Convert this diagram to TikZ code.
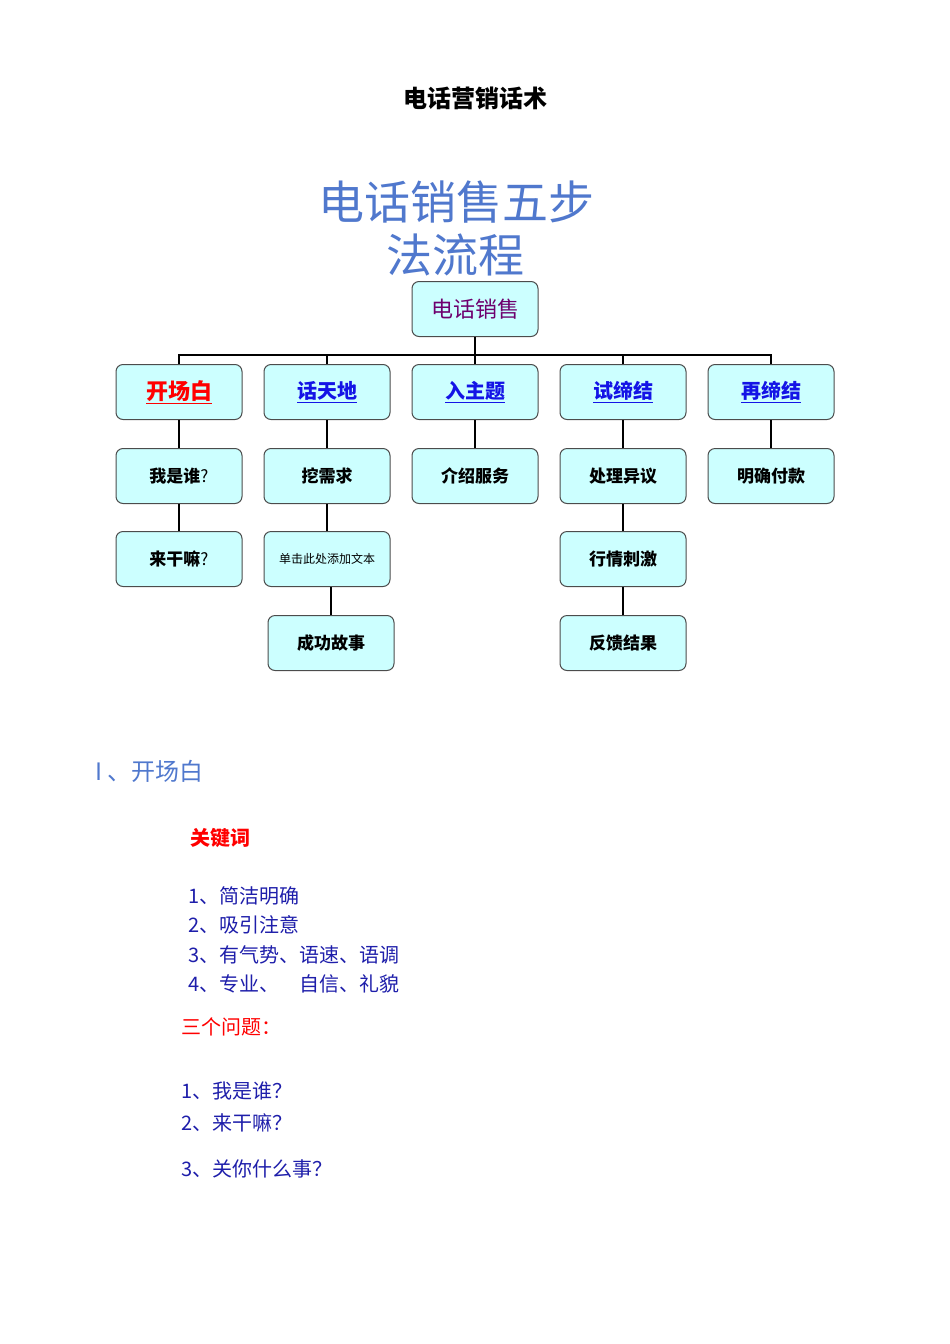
\documentclass[tikz,border=0pt]{standalone}
\usepackage{fontspec}
\newfontfamily\cjk{Noto Sans CJK SC}
\definecolor{boxfill}{RGB}{204,255,255}
\definecolor{bigblue}{RGB}{80,120,205}
\definecolor{listblue}{RGB}{30,30,170}
\definecolor{linkblue}{RGB}{20,20,230}
\definecolor{topcol}{RGB}{110,0,110}
\tikzset{
  box/.style={draw=black!70, line width=1pt, fill=boxfill, rounded corners=7pt, minimum width=126pt, minimum height=55pt, inner sep=0pt, font=\cjk\fontsize{17}{19}\selectfont\bfseries},
  conn/.style={line width=2pt, black},
  txt/.style={anchor=west, inner sep=0pt, font=\cjk\fontsize{20}{22}\selectfont}
}
\begin{document}
\begin{tikzpicture}[x=1pt,y=-1pt]
\useasboundingbox (0,0) rectangle (950,1344);
\node[inner sep=0pt, font=\cjk\fontsize{24}{26}\selectfont\bfseries] (title) at (475,98) {电话营销话术};
\node[inner sep=0pt, text=bigblue, font=\cjk\fontsize{46}{50}\selectfont] (big1) at (456,202) {电话销售五步};
\node[inner sep=0pt, text=bigblue, font=\cjk\fontsize{46}{50}\selectfont] (big2) at (455,255) {法流程};

\node[box, text=topcol, font=\cjk\fontsize{22}{24}\selectfont] (top) at (475,309) {电话销售};
\node[box, text=red, font=\cjk\fontsize{22}{24}\selectfont\bfseries] (a1) at (179,392) {\underline{开场白}};
\node[box, text=linkblue, font=\cjk\fontsize{20}{22}\selectfont\bfseries] (a2) at (327,392) {\underline{话天地}};
\node[box, text=linkblue, font=\cjk\fontsize{20}{22}\selectfont\bfseries] (a3) at (475,392) {\underline{入主题}};
\node[box, text=linkblue, font=\cjk\fontsize{20}{22}\selectfont\bfseries] (a4) at (623,392) {\underline{试缔结}};
\node[box, text=linkblue, font=\cjk\fontsize{20}{22}\selectfont\bfseries] (a5) at (771,392) {\underline{再缔结}};

\node[box] (b1) at (179,476) {我是谁{\mdseries ?}};
\node[box] (b2) at (327,476) {挖需求};
\node[box] (b3) at (475,476) {介绍服务};
\node[box] (b4) at (623,476) {处理异议};
\node[box] (b5) at (771,476) {明确付款};

\node[box] (c1) at (179,559) {来干嘛{\mdseries ?}};
\node[box, font=\cjk\fontsize{12}{14}\selectfont] (c2) at (327,559) {单击此处添加文本};
\node[box] (c4) at (623,559) {行情刺激};

\node[box] (d2) at (331,643) {成功故事};
\node[box] (d4) at (623,643) {反馈结果};

\coordinate (bus) at (475,355);
\draw[conn] (top.south) -- (bus);
\draw[conn] (a1.north) |- (bus) -| (a5.north);
\foreach \n in {a2,a3,a4} \draw[conn] (\n.north) -- (\n.north |- bus);
\foreach \u/\v in {a1/b1,a2/b2,a3/b3,a4/b4,a5/b5,b1/c1,b2/c2,b4/c4,c4/d4}
  \draw[conn] (\u.south) -- (\v.north);
\draw[conn] (c2.south -| d2.north) -- (d2.north);

\node[txt, text=bigblue, font=\cjk\fontsize{24}{26}\selectfont] (sec) at (95,771) {I 、开场白};
\node[txt, text=red, font=\cjk\fontsize{20}{22}\selectfont\bfseries] (kw) at (190,838) {关键词};
\node[txt, text=listblue] (l1) at (188,896) {1、简洁明确};
\node[txt, text=listblue] (l2) at (188,925) {2、吸引注意};
\node[txt, text=listblue] (l3) at (188,955) {3、有气势、语速、语调};
\node[txt, text=listblue] (l4) at (188,984) {4、专业、\hspace{1em}自信、礼貌};
\node[txt, text=red] (q) at (181,1027) {三个问题：};
\node[txt, text=listblue] (q1) at (181,1091) {1、我是谁？};
\node[txt, text=listblue] (q2) at (181,1123) {2、来干嘛？};
\node[txt, text=listblue] (q3) at (181,1169) {3、关你什么事？};
\end{tikzpicture}
\end{document}
